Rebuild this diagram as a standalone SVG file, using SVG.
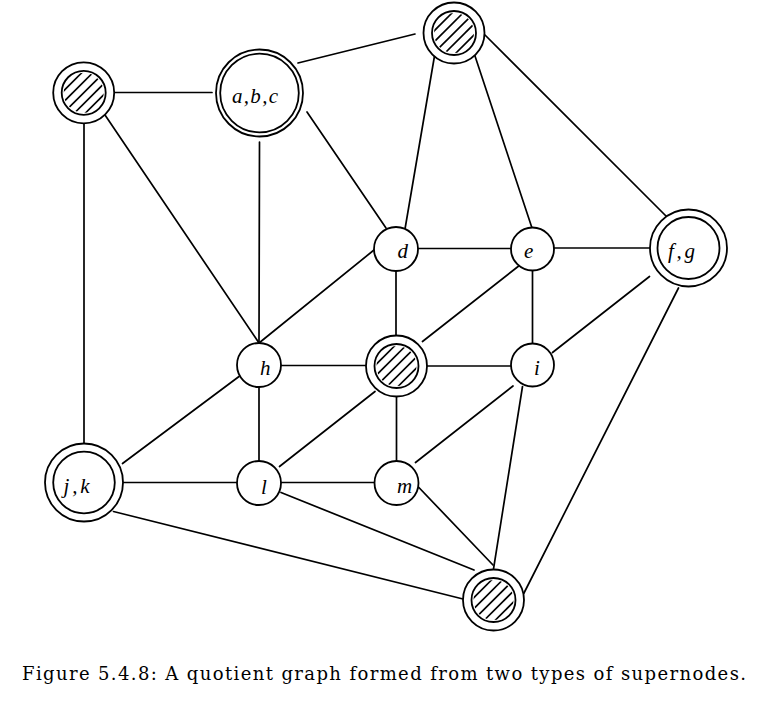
<svg xmlns="http://www.w3.org/2000/svg" xmlns:xlink="http://www.w3.org/1999/xlink" width="767" height="702" viewBox="0 0 767 702">
<style>
.edge{stroke:#000;stroke-width:1.7;fill:none;stroke-linecap:round}
.ring{stroke:#000;stroke-width:1.8;fill:#fff}
.ring2{stroke:#000;stroke-width:1.8;fill:none}
.hl{stroke:#000;stroke-width:1.6}
.lbl{font-family:"Liberation Serif",serif;font-style:italic;font-size:21px;fill:#000}
.cap{font-family:"DejaVu Serif",serif;font-size:18px;fill:#000}
</style>
<defs>
<clipPath id="hc"><circle cx="0" cy="0" r="20"/></clipPath>
<g id="hatch">
<circle class="ring" cx="0" cy="0" r="30.5"/>
<circle class="ring2" cx="0" cy="0" r="22"/>
<g clip-path="url(#hc)">
<line class="hl" x1="-41" y1="19" x2="19" y2="-41"/>
<line class="hl" x1="-35.5" y1="24.5" x2="24.5" y2="-35.5"/>
<line class="hl" x1="-30" y1="30" x2="30" y2="-30"/>
<line class="hl" x1="-24.5" y1="35.5" x2="35.5" y2="-24.5"/>
<line class="hl" x1="-19" y1="41" x2="41" y2="-19"/>
</g>
</g>
</defs>
<rect width="767" height="702" fill="#fff"/>
<g id="connectors">
<line class="edge" x1="114" y1="92.5" x2="212" y2="92.5"/>
<line class="edge" x1="84" y1="123" x2="84" y2="443"/>
<line class="edge" x1="105" y1="115" x2="259" y2="343"/>
<line class="edge" x1="298" y1="63" x2="415" y2="34"/>
<line class="edge" x1="259.5" y1="142" x2="259" y2="343"/>
<line class="edge" x1="307" y1="112" x2="386" y2="228"/>
<line class="edge" x1="435" y1="53" x2="405" y2="229"/>
<line class="edge" x1="474" y1="53" x2="532" y2="228"/>
<line class="edge" x1="485" y1="35" x2="670" y2="220"/>
<line class="edge" x1="418" y1="248.5" x2="511" y2="248.5"/>
<line class="edge" x1="554" y1="248" x2="650" y2="248"/>
<line class="edge" x1="374" y1="250" x2="259" y2="343"/>
<line class="edge" x1="396" y1="271" x2="396" y2="336"/>
<line class="edge" x1="520" y1="265" x2="422.5" y2="341.5"/>
<line class="edge" x1="532.5" y1="271" x2="532.5" y2="343"/>
<line class="edge" x1="649.5" y1="276.5" x2="552.5" y2="352.5"/>
<line class="edge" x1="678.5" y1="288" x2="524" y2="593"/>
<line class="edge" x1="281" y1="365.5" x2="366" y2="365.5"/>
<line class="edge" x1="427" y1="366" x2="511" y2="366"/>
<line class="edge" x1="122.5" y1="463.5" x2="239" y2="376.5"/>
<line class="edge" x1="259" y1="387" x2="259" y2="461"/>
<line class="edge" x1="375" y1="391.5" x2="279.5" y2="466.5"/>
<line class="edge" x1="396.5" y1="396.5" x2="396.5" y2="461"/>
<line class="edge" x1="513" y1="386" x2="415.5" y2="462.5"/>
<line class="edge" x1="522.5" y1="386.5" x2="493.5" y2="569"/>
<line class="edge" x1="123" y1="482.5" x2="237" y2="482.5"/>
<line class="edge" x1="281" y1="482.5" x2="374" y2="482.5"/>
<line class="edge" x1="113.5" y1="511.5" x2="463" y2="599"/>
<line class="edge" x1="281" y1="492.5" x2="474" y2="570"/>
<line class="edge" x1="416.5" y1="485" x2="493" y2="565"/>
</g>
<g id="n-hatch-tl"><use xlink:href="#hatch" href="#hatch" x="83.7" y="92.8"/></g>
<g id="n-hatch-top"><use xlink:href="#hatch" href="#hatch" x="454" y="33"/></g>
<g id="n-hatch-center"><use xlink:href="#hatch" href="#hatch" x="396.5" y="366"/></g>
<g id="n-hatch-bottom"><use xlink:href="#hatch" href="#hatch" x="493.5" y="600"/></g>
<g id="n-abc">
<circle class="ring" cx="259.5" cy="93" r="43.5"/>
<circle class="ring2" cx="259.5" cy="93" r="39.3"/>
<text class="lbl" x="232" y="103" textLength="46" lengthAdjust="spacing">a,b,c</text>
</g>
<g id="n-fg">
<circle class="ring" cx="688.5" cy="248" r="38.5"/>
<circle class="ring2" cx="688.5" cy="248" r="31"/>
<text class="lbl" x="668" y="258" textLength="27" lengthAdjust="spacing">f,g</text>
</g>
<g id="n-jk">
<circle class="ring" cx="84" cy="482.5" r="39"/>
<circle class="ring2" cx="84" cy="482.5" r="30.8"/>
<text class="lbl" x="63.5" y="492.5" textLength="26" lengthAdjust="spacing">j,k</text>
</g>
<g id="n-d"><circle class="ring" cx="396" cy="249" r="22"/><text class="lbl" x="397.5" y="258">d</text></g>
<g id="n-e"><circle class="ring" cx="532.5" cy="249" r="21.5"/><text class="lbl" x="524" y="258">e</text></g>
<g id="n-h"><circle class="ring" cx="259" cy="365" r="22"/><text class="lbl" x="260" y="375">h</text></g>
<g id="n-i"><circle class="ring" cx="532.5" cy="365" r="21.5"/><text class="lbl" x="534" y="375">i</text></g>
<g id="n-l"><circle class="ring" cx="259" cy="483" r="22"/><text class="lbl" x="261" y="494">l</text></g>
<g id="n-m"><circle class="ring" cx="396.5" cy="483" r="22"/><text class="lbl" x="397" y="493">m</text></g>
<text class="cap" x="22" y="680" textLength="724" lengthAdjust="spacing">Figure 5.4.8: A quotient graph formed from two types of supernodes.</text>
</svg>
